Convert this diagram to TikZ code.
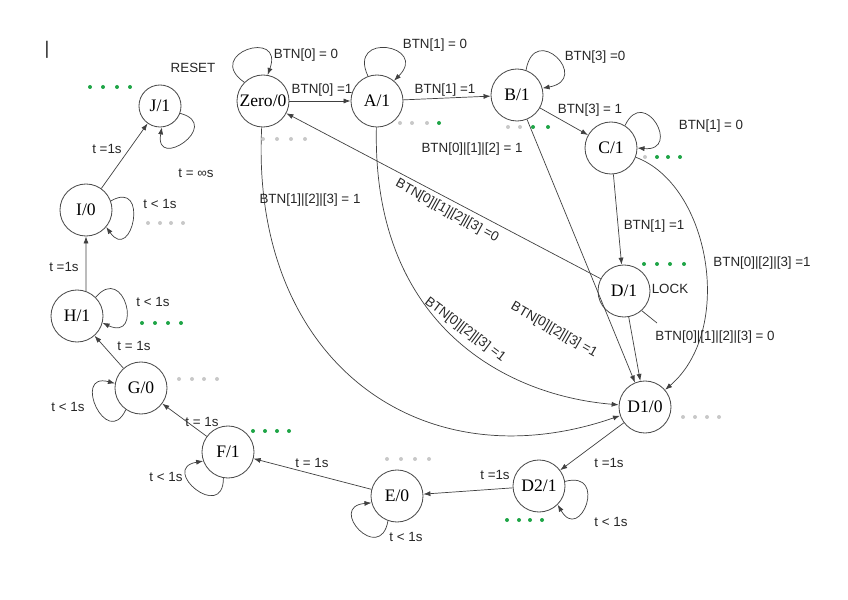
\documentclass[tikz,border=0pt]{standalone}
\usepackage{fontspec}
\setmainfont{Liberation Serif}
\setsansfont{Liberation Sans}
\usetikzlibrary{arrows.meta}
\definecolor{dotgreen}{RGB}{30,165,70}
\definecolor{dotgray}{RGB}{200,200,200}

\begin{document}
\begin{tikzpicture}[
    x=0.025cm, y=0.025cm,
    state/.style={circle, draw=black!70, line width=0.6pt, minimum size=1.3cm, inner sep=0pt,
                  font=\fontsize{12.5}{14}\selectfont},
    trans/.style={-{Latex[length=5pt,width=3.6pt]}, draw=black!75, line width=0.5pt},
    cond/.style={font=\sffamily\fontsize{9.5}{11}\selectfont, text=black!85, inner sep=1pt}
]
    % Page frame, same size as the screenshot
    \useasboundingbox (0,0) rectangle (848,599);

    % States - unlock path on top, timer chain round the bottom and left
    \node[state] (zero) at (263,498) {Zero/0};
    \node[state] (a)    at (377,498) {A/1};
    \node[state] (b)    at (517,504) {B/1};
    \node[state] (c)    at (611,451) {C/1};
    \node[state] (d)    at (624,308) {D/1};
    \node[state] (d1)   at (645,192) {D1/0};
    \node[state] (d2)   at (539,113) {D2/1};
    \node[state] (e)    at (397,103) {E/0};
    \node[state] (f)    at (228,147) {F/1};
    \node[state] (g)    at (141,211) {G/0};
    \node[state] (h)    at (77,283)  {H/1};
    \node[state] (i)    at (86,389)  {I/0};
    \node[state, minimum size=1.05cm] (j) at (160,493) {J/1};

    % Stray cursor mark and side notes
    \node[cond, font=\sffamily\fontsize{13}{14}\selectfont] (bar) at (47,549) {|};
    \node[cond] (reset) at (193,531) {RESET};
    \node[cond] (lock)  at (670,310) {LOCK};

    % Button transitions
    \draw[trans] (zero) -- (a);
    \draw[trans] (a) -- (b);
    \draw[trans] (b) -- (c);
    \draw[trans] (c) -- (d);
    \draw[trans] (d) -- (zero);
    \draw[trans] (b) -- (d1);
    \draw[trans] (d) -- (d1);
    \draw[trans] (c) .. controls (710,414) and (735,269) .. (d1);
    \draw[trans] (a) .. controls (372,279) and (500,204) .. (d1);
    \draw[trans] (zero) .. controls (250,239) and (420,114) .. (d1);
    \coordinate (lead) at (657,276);
    \draw[draw=black!75, line width=0.5pt] (d.-48) -- (lead);

    % Timer chain
    \draw[trans] (d1) -- (d2);
    \draw[trans] (d2) -- (e);
    \draw[trans] (e) -- (f);
    \draw[trans] (f) -- (g);
    \draw[trans] (g) -- (h);
    \draw[trans] (h.70) -- (i.south);
    \draw[trans] (i) -- (j);

    % Self loops
    \draw[trans] (zero.135) .. controls +(145:50) and +(70:50) .. (zero.80);
    \draw[trans] (a.110) .. controls +(115:50) and +(45:50) .. (a.50);
    \draw[trans] (b.70) .. controls +(80:50) and +(10:50) .. (b.15);
    \draw[trans] (c.58) .. controls +(65:45) and +(-5:45) .. (c.0);
    \draw[trans] (d2.10) .. controls +(15:45) and +(-60:45) .. (d2.-45);
    \draw[trans] (e.250) .. controls +(260:45) and +(185:45) .. (e.195);
    \draw[trans] (f.260) .. controls +(270:45) and +(190:45) .. (f.200);
    \draw[trans] (g.235) .. controls +(245:45) and +(165:45) .. (g.170);
    \draw[trans] (h.45) .. controls +(50:45) and +(-25:45) .. (h.-15);
    \draw[trans] (i.20) .. controls +(30:45) and +(-55:45) .. (i.-40);
    \draw[trans] (j.-20) .. controls +(-15:45) and +(-100:45) .. (j.-85);

    % Conditions
    \node[cond] (lzz)   at (306,544) {BTN[0] = 0};
    \node[cond] (laa)   at (435,554) {BTN[1] = 0};
    \node[cond] (lza)   at (322,509) {BTN[0] =1};
    \node[cond] (lab)   at (445,509) {BTN[1] =1};
    \node[cond] (lbb)   at (595,542) {BTN[3] =0};
    \node[cond] (lbc)   at (590,489) {BTN[3] = 1};
    \node[cond] (lcc)   at (711,473) {BTN[1] = 0};
    \node[cond] (lcd)   at (654,373) {BTN[1] =1};
    \node[cond, rotate=-29] (ldz) at (447,388) {BTN[0]|[1]|[2]|[3] =0};
    \node[cond] (lbd)   at (472,450) {BTN[0]|[1]|[2] = 1};
    \node[cond] (lzd)   at (310,399) {BTN[1]|[2]|[3] = 1};
    \node[cond, rotate=-37] (lad) at (465,269) {BTN[0]|[2]|[3] =1};
    \node[cond, rotate=-30] (lad2) at (554,269) {BTN[0]|[2]|[3] =1};
    \node[cond] (lcd1)  at (762,336) {BTN[0]|[2]|[3] =1};
    \node[cond] (ldd)   at (715,262) {BTN[0]|[1]|[2]|[3] = 0};

    % Timer conditions
    \node[cond] (t1) at (609,136) {t =1s};
    \node[cond] (t2) at (611,77)  {t < 1s};
    \node[cond] (t3) at (495,124) {t =1s};
    \node[cond] (t4) at (406,62)  {t < 1s};
    \node[cond] (t5) at (312,136) {t = 1s};
    \node[cond] (t6) at (166,122) {t < 1s};
    \node[cond] (t7) at (202,177) {t = 1s};
    \node[cond] (t8) at (68,192)  {t < 1s};
    \node[cond] (t9) at (134,253) {t = 1s};
    \node[cond] (t10) at (153,297) {t < 1s};
    \node[cond] (t11) at (64,332)  {t =1s};
    \node[cond] (t12) at (160,395) {t < 1s};
    \node[cond] (t13) at (107,450) {t =1s};
    \node[cond] (t14) at (196,426) {t = ∞s};

    % Output dots beside each state
    \foreach \x in {90,103,117,130} \fill[dotgreen] (\x,512) circle (2);
    \foreach \x in {148,160,171,183} \fill[dotgray] (\x,376) circle (2);
    \foreach \x in {142,155,168,181} \fill[dotgreen] (\x,276) circle (2);
    \foreach \x in {179,192,204,217} \fill[dotgray] (\x,220) circle (2);
    \foreach \x in {253,265,277,289} \fill[dotgreen] (\x,168) circle (2);
    \foreach \x in {387,401,415,429} \fill[dotgray] (\x,140) circle (2);
    \foreach \x in {507,519,530,542} \fill[dotgreen] (\x,79) circle (2);
    \foreach \x in {683,695,707,719} \fill[dotgray] (\x,182) circle (2);
    \foreach \x in {644,657,670,684} \fill[dotgreen] (\x,335) circle (2);
    \foreach \x in {657,668,680} \fill[dotgreen] (\x,442) circle (2);
    \fill[dotgray] (645,442) circle (2);
    \foreach \x in {508,520} \fill[dotgray] (\x,472) circle (2);
    \foreach \x in {533,548} \fill[dotgreen] (\x,472) circle (2);
    \foreach \x in {400,412,427} \fill[dotgray] (\x,476) circle (2);
    \fill[dotgreen] (439,476) circle (2);
    \foreach \x in {263,277,291,305} \fill[dotgray] (\x,460) circle (2);
\end{tikzpicture}
\end{document}
